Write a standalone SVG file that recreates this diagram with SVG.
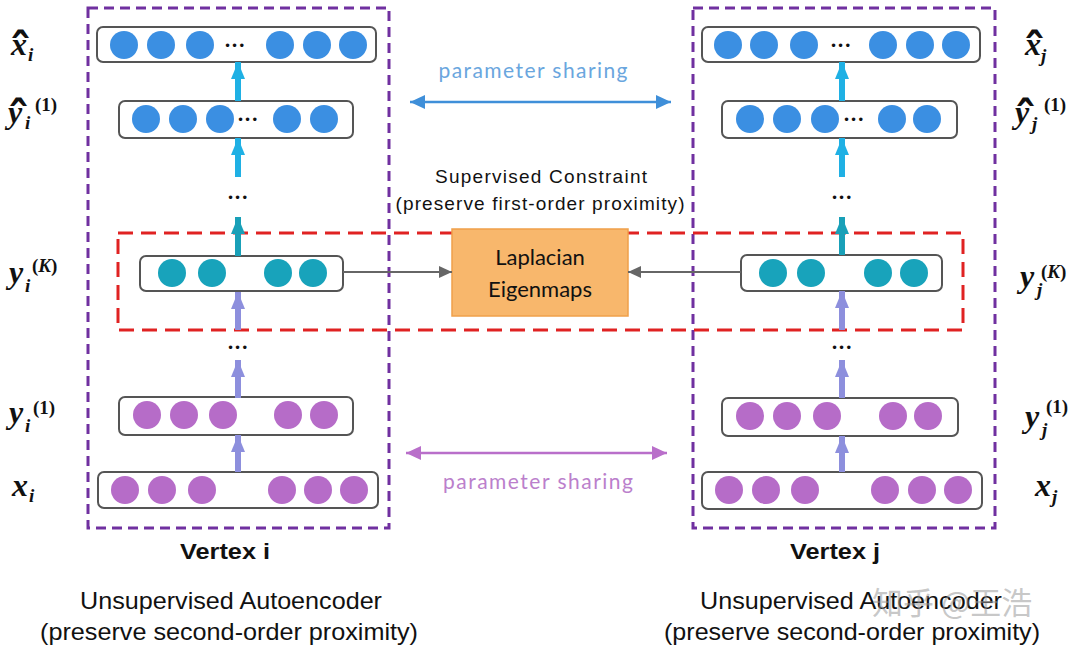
<svg xmlns="http://www.w3.org/2000/svg" width="1080" height="648" viewBox="0 0 1080 648">
<style>
.layer{fill:#fff;stroke:#555;stroke-width:2}
.cb{fill:#3b8fe2}
.ct{fill:#18a3bb}
.cp{fill:#b66cc8}
.dots{font-family:"DejaVu Sans",sans-serif;font-size:12px;fill:#111}
.math{font-family:"Liberation Serif","DejaVu Serif",serif;font-weight:bold;font-style:italic;fill:#111;font-size:32px}
.s{font-size:19px}
.up{font-style:normal}
.hat{font-family:"DejaVu Sans",sans-serif;font-size:46px;font-style:normal;font-weight:bold}
.sans{font-family:"Liberation Sans",Arial,sans-serif;fill:#111}
.cal{font-family:Lato,"Open Sans",sans-serif}
</style>
<defs>
<marker id="hb" markerUnits="userSpaceOnUse" markerWidth="18" markerHeight="14" refX="17" refY="7" orient="auto"><path d="M0,0 L17,7 L0,14 z" fill="#1fb0e4"/></marker>
<marker id="ht" markerUnits="userSpaceOnUse" markerWidth="18" markerHeight="14" refX="17" refY="7" orient="auto"><path d="M0,0 L17,7 L0,14 z" fill="#19a0b8"/></marker>
<marker id="hl" markerUnits="userSpaceOnUse" markerWidth="18" markerHeight="14" refX="17" refY="7" orient="auto"><path d="M0,0 L17,7 L0,14 z" fill="#8d8fdd"/></marker>
<marker id="hg" markerUnits="userSpaceOnUse" markerWidth="14" markerHeight="12" refX="13" refY="6" orient="auto"><path d="M0,0 L13,6 L0,12 z" fill="#666"/></marker>
<marker id="hs" markerUnits="userSpaceOnUse" markerWidth="16" markerHeight="14" refX="15" refY="7" orient="auto-start-reverse"><path d="M0,0 L15,7 L0,14 z" fill="#3f8fd9"/></marker>
<marker id="hp" markerUnits="userSpaceOnUse" markerWidth="16" markerHeight="14" refX="15" refY="7" orient="auto-start-reverse"><path d="M0,0 L15,7 L0,14 z" fill="#b96fca"/></marker>
</defs>

<!-- group boxes -->
<g id="frames" fill="none">
<rect x="88" y="8" width="301" height="520" stroke="#7030a0" stroke-width="3" stroke-dasharray="10 6"/>
<rect x="693" y="8" width="302" height="520" stroke="#7030a0" stroke-width="3" stroke-dasharray="10 6"/>
<rect x="118" y="233" width="845" height="97" stroke="#e02222" stroke-width="3" stroke-dasharray="15 8"/>
</g>

<!-- left column -->
<g id="xhat_i">
<rect class="layer" x="97" y="27" width="279" height="35" rx="6"/>
<circle class="cb" cx="124" cy="45" r="14"/><circle class="cb" cx="161" cy="45" r="14"/><circle class="cb" cx="200" cy="45" r="14"/>
<text class="dots" x="224" y="50">•••</text>
<circle class="cb" cx="280" cy="45" r="14"/><circle class="cb" cx="317" cy="45" r="14"/><circle class="cb" cx="353" cy="45" r="14"/>
</g>
<g id="yhat1_i">
<rect class="layer" x="119" y="101" width="234" height="37" rx="6"/>
<circle class="cb" cx="146" cy="119" r="14"/><circle class="cb" cx="183" cy="119" r="14"/><circle class="cb" cx="220" cy="119" r="14"/>
<text class="dots" x="237" y="124">•••</text>
<circle class="cb" cx="287" cy="119" r="14"/><circle class="cb" cx="324" cy="119" r="14"/>
</g>
<text class="dots" x="227" y="202">•••</text>
<g id="yK_i">
<rect class="layer" x="140" y="256" width="203" height="35" rx="6"/>
<circle class="ct" cx="172" cy="273" r="14"/><circle class="ct" cx="212" cy="273" r="14"/>
<circle class="ct" cx="278" cy="273" r="14"/><circle class="ct" cx="313" cy="273" r="14"/>
</g>
<text class="dots" x="227" y="352">•••</text>
<g id="y1_i">
<rect class="layer" x="119" y="397" width="234" height="38" rx="6"/>
<circle class="cp" cx="147" cy="415" r="14"/><circle class="cp" cx="184" cy="415" r="14"/><circle class="cp" cx="223" cy="415" r="14"/>
<circle class="cp" cx="288" cy="415" r="14"/><circle class="cp" cx="324" cy="415" r="14"/>
</g>
<g id="x_i">
<rect class="layer" x="98" y="472" width="280" height="36" rx="6"/>
<circle class="cp" cx="125" cy="490" r="14"/><circle class="cp" cx="162" cy="490" r="14"/><circle class="cp" cx="202" cy="490" r="14"/>
<circle class="cp" cx="282" cy="490" r="14"/><circle class="cp" cx="318" cy="490" r="14"/><circle class="cp" cx="354" cy="490" r="14"/>
</g>

<!-- right column -->
<g id="xhat_j">
<rect class="layer" x="702" y="27" width="278" height="35" rx="6"/>
<circle class="cb" cx="728" cy="45" r="14"/><circle class="cb" cx="764" cy="45" r="14"/><circle class="cb" cx="804" cy="45" r="14"/>
<text class="dots" x="830" y="50">•••</text>
<circle class="cb" cx="883" cy="45" r="14"/><circle class="cb" cx="920" cy="45" r="14"/><circle class="cb" cx="956" cy="45" r="14"/>
</g>
<g id="yhat1_j">
<rect class="layer" x="722" y="101" width="235" height="37" rx="6"/>
<circle class="cb" cx="750" cy="119" r="14"/><circle class="cb" cx="787" cy="119" r="14"/><circle class="cb" cx="825" cy="119" r="14"/>
<text class="dots" x="843" y="124">•••</text>
<circle class="cb" cx="892" cy="119" r="14"/><circle class="cb" cx="927" cy="119" r="14"/>
</g>
<text class="dots" x="831" y="202">•••</text>
<g id="yK_j">
<rect class="layer" x="741" y="255" width="201" height="36" rx="6"/>
<circle class="ct" cx="773" cy="273" r="14"/><circle class="ct" cx="811" cy="273" r="14"/>
<circle class="ct" cx="878" cy="273" r="14"/><circle class="ct" cx="914" cy="273" r="14"/>
</g>
<text class="dots" x="831" y="352">•••</text>
<g id="y1_j">
<rect class="layer" x="722" y="398" width="236" height="38" rx="6"/>
<circle class="cp" cx="750" cy="416" r="14"/><circle class="cp" cx="787" cy="416" r="14"/><circle class="cp" cx="827" cy="416" r="14"/>
<circle class="cp" cx="893" cy="416" r="14"/><circle class="cp" cx="928" cy="416" r="14"/>
</g>
<g id="x_j">
<rect class="layer" x="702" y="472" width="280" height="37" rx="6"/>
<circle class="cp" cx="729" cy="490" r="14"/><circle class="cp" cx="766" cy="490" r="14"/><circle class="cp" cx="805" cy="490" r="14"/>
<circle class="cp" cx="885" cy="490" r="14"/><circle class="cp" cx="922" cy="490" r="14"/><circle class="cp" cx="958" cy="490" r="14"/>
</g>

<!-- Laplacian node -->
<g id="laplacian">
<rect x="452" y="229" width="176" height="87" fill="#f8b76c" stroke="#f0a04a" stroke-width="1.5"/>
<text class="cal" x="540" y="265" font-size="22" fill="#111" text-anchor="middle">Laplacian</text>
<text class="cal" x="540" y="297" font-size="22" fill="#111" text-anchor="middle">Eigenmaps</text>
</g>

<!-- connectors -->
<g id="connectors" fill="none">
<line x1="238" y1="101" x2="238" y2="62" stroke="#1fb0e4" stroke-width="6" marker-end="url(#hb)"/>
<line x1="238" y1="177" x2="238" y2="138" stroke="#1fb0e4" stroke-width="6" marker-end="url(#hb)"/>
<line x1="238" y1="256" x2="238" y2="217" stroke="#19a0b8" stroke-width="6" marker-end="url(#ht)"/>
<line x1="238" y1="330" x2="238" y2="292" stroke="#8d8fdd" stroke-width="6" marker-end="url(#hl)"/>
<line x1="238" y1="398" x2="238" y2="360" stroke="#8d8fdd" stroke-width="6" marker-end="url(#hl)"/>
<line x1="238" y1="472" x2="238" y2="435" stroke="#8d8fdd" stroke-width="6" marker-end="url(#hl)"/>
<line x1="842" y1="101" x2="842" y2="62" stroke="#1fb0e4" stroke-width="6" marker-end="url(#hb)"/>
<line x1="842" y1="177" x2="842" y2="138" stroke="#1fb0e4" stroke-width="6" marker-end="url(#hb)"/>
<line x1="842" y1="255" x2="842" y2="217" stroke="#19a0b8" stroke-width="6" marker-end="url(#ht)"/>
<line x1="842" y1="330" x2="842" y2="291" stroke="#8d8fdd" stroke-width="6" marker-end="url(#hl)"/>
<line x1="842" y1="398" x2="842" y2="360" stroke="#8d8fdd" stroke-width="6" marker-end="url(#hl)"/>
<line x1="842" y1="472" x2="842" y2="436" stroke="#8d8fdd" stroke-width="6" marker-end="url(#hl)"/>
<line x1="343" y1="272" x2="452" y2="272" stroke="#666" stroke-width="2" marker-end="url(#hg)"/>
<line x1="741" y1="272" x2="628" y2="272" stroke="#666" stroke-width="2" marker-end="url(#hg)"/>
<line x1="410" y1="102" x2="671" y2="102" stroke="#3f8fd9" stroke-width="2.5" marker-start="url(#hs)" marker-end="url(#hs)"/>
<line x1="406" y1="453" x2="667" y2="453" stroke="#b96fca" stroke-width="2.5" marker-start="url(#hp)" marker-end="url(#hp)"/>
</g>

<!-- center labels -->
<g id="center-labels">
<text class="cal" x="533" y="78" font-size="21" fill="#6aa6de" text-anchor="middle" textLength="189">parameter sharing</text>
<text class="cal" x="538" y="489" font-size="21" fill="#bb7fcc" text-anchor="middle" textLength="190">parameter sharing</text>
<text class="sans" x="541" y="183" font-size="19" text-anchor="middle" textLength="212">Supervised  Constraint</text>
<text class="sans" x="540" y="210" font-size="19" text-anchor="middle" textLength="289">(preserve  first-order proximity)</text>
</g>

<!-- math labels left -->
<g id="labels-left">
<text class="math" x="11" y="55">x<tspan class="s" x="28" y="61">i</tspan><tspan class="hat" x="9" y="67">ˆ</tspan></text>
<text class="math" x="8" y="123">y<tspan class="s" x="25" y="129">i</tspan><tspan class="s up" x="35" y="111">(1)</tspan><tspan class="hat" x="7" y="135">ˆ</tspan></text>
<text class="math" x="9" y="283">y<tspan class="s" x="25" y="292">i</tspan><tspan class="s" x="32" y="272"><tspan class="up">(</tspan>K<tspan class="up">)</tspan></tspan></text>
<text class="math" x="9" y="423">y<tspan class="s" x="25" y="432">i</tspan><tspan class="s up" x="33" y="414">(1)</tspan></text>
<text class="math" x="12" y="496">x<tspan class="s" x="29" y="502">i</tspan></text>
</g>
<g id="labels-right">
<text class="math" x="1025" y="55">x<tspan class="s" x="1041" y="62">j</tspan><tspan class="hat" x="1023" y="67">ˆ</tspan></text>
<text class="math" x="1015" y="123">y<tspan class="s" x="1032" y="130">j</tspan><tspan class="s up" x="1044" y="111">(1)</tspan><tspan class="hat" x="1014" y="135">ˆ</tspan></text>
<text class="math" x="1020" y="287">y<tspan class="s" x="1037" y="296">j</tspan><tspan class="s" x="1041" y="278"><tspan class="up">(</tspan>K<tspan class="up">)</tspan></tspan></text>
<text class="math" x="1025" y="427">y<tspan class="s" x="1042" y="436">j</tspan><tspan class="s up" x="1046" y="413">(1)</tspan></text>
<text class="math" x="1035" y="496">x<tspan class="s" x="1052" y="503">j</tspan></text>
</g>

<!-- bottom texts -->
<g id="bottom-labels">
<text class="sans" x="225" y="559" font-size="22" font-weight="bold" text-anchor="middle" textLength="90" lengthAdjust="spacingAndGlyphs">Vertex i</text>
<text class="sans" x="835" y="559" font-size="22" font-weight="bold" text-anchor="middle" textLength="90" lengthAdjust="spacingAndGlyphs">Vertex j</text>
<text class="sans" x="231" y="609" font-size="24" text-anchor="middle" textLength="302" lengthAdjust="spacingAndGlyphs">Unsupervised Autoencoder</text>
<text class="sans" x="229" y="640" font-size="24" text-anchor="middle" textLength="378" lengthAdjust="spacingAndGlyphs">(preserve second-order proximity)</text>
<text class="sans" x="851" y="609" font-size="24" text-anchor="middle" textLength="302" lengthAdjust="spacingAndGlyphs">Unsupervised Autoencoder</text>
<text class="sans" x="852" y="640" font-size="24" text-anchor="middle" textLength="376" lengthAdjust="spacingAndGlyphs">(preserve second-order proximity)</text>
<text x="872" y="614" font-family="'Noto Sans CJK SC',sans-serif" font-size="31" fill="#999" fill-opacity="0.55">知乎 @王浩</text>
</g>
</svg>
